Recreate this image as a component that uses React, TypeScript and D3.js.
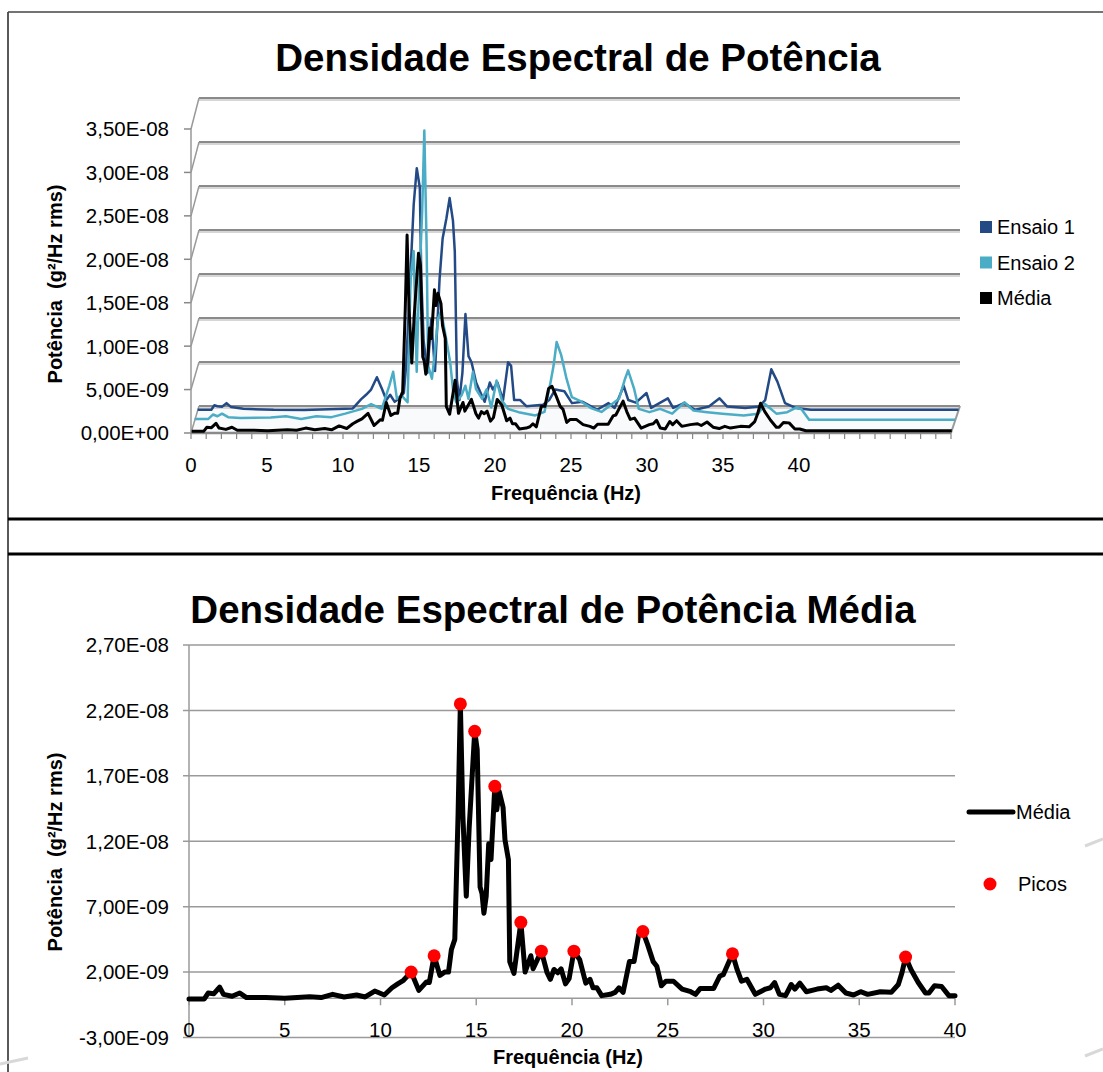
import { useEffect, useRef } from "react"
import * as d3 from "d3"

// frequência (Hz), potência (x 1e-9 g²/Hz rms)
const media: [number, number][] = [
  [0, -0.05], [0.8, -0.05], [1.0, 0.4], [1.3, 0.35], [1.6, 0.85], [1.8, 0.3], [2.25, 0.15], [2.65, 0.4],
  [3.0, 0.05], [4.0, 0.05], [5.0, 0.0], [6.3, 0.12], [6.9, 0.05], [7.5, 0.3], [8.1, 0.1], [8.75, 0.25],
  [9.2, 0.1], [9.7, 0.55], [10.2, 0.25], [10.6, 0.8], [10.9, 1.1], [11.2, 1.37], [11.6, 2.0], [12.0, 0.6],
  [12.4, 1.25], [12.55, 1.2], [12.8, 3.25], [13.1, 1.75], [13.35, 2.0], [13.55, 2.0], [13.7, 3.7], [13.88, 4.5],
  [14.05, 14], [14.17, 22.5], [14.3, 14], [14.48, 7.8], [14.63, 13], [14.92, 20.4], [15.05, 19], [15.2, 8.5],
  [15.3, 8.0], [15.4, 6.5], [15.52, 7.8], [15.65, 11.8], [15.77, 10.6], [15.97, 16.2], [16.07, 14.4], [16.2, 15.8],
  [16.4, 14.6], [16.5, 12.1], [16.68, 10.6], [16.75, 2.8], [16.97, 1.9], [17.33, 5.8], [17.55, 2.0], [17.85, 3.25],
  [17.97, 2.25], [18.4, 3.6], [18.7, 1.95], [18.87, 1.45], [19.06, 2.2], [19.25, 1.95], [19.43, 2.25], [19.66, 1.1],
  [19.85, 1.5], [20.1, 3.6], [20.4, 2.95], [20.72, 1.15], [20.94, 1.45], [21.1, 0.8], [21.3, 0.8], [21.55, 0.2],
  [22.0, 0.3], [22.25, 0.45], [22.45, 0.8], [22.67, 0.45], [23.0, 2.8], [23.24, 2.8], [23.48, 4.85], [23.7, 5.1],
  [23.95, 4.1], [24.24, 2.8], [24.43, 2.45], [24.67, 0.95], [24.9, 1.3], [25.3, 1.3], [25.75, 0.7], [26.2, 0.5],
  [26.45, 0.3], [26.7, 0.75], [27.4, 0.75], [27.72, 1.7], [27.9, 1.8], [28.38, 3.4], [28.62, 2.2], [28.85, 1.3],
  [29.13, 1.45], [29.57, 0.3], [30.1, 0.7], [30.36, 0.8], [30.58, 1.2], [30.83, 0.3], [31.15, 0.2], [31.45, 1.05],
  [31.64, 0.7], [31.9, 1.15], [32.24, 0.5], [32.8, 0.7], [33.28, 0.8], [33.52, 0.6], [33.9, 1.0], [34.3, 0.4],
  [34.7, 0.25], [35.07, 0.5], [35.44, 0.3], [36.1, 0.5], [36.67, 0.45], [37.04, 1.05], [37.23, 1.95], [37.42, 3.15],
  [37.7, 2.2], [38.08, 1.2], [38.46, 0.4], [38.64, 0.4], [38.93, 0.95], [39.3, 0.9], [39.68, 0.2], [40.0, 0.2],
]
// trecho plano depois de 40 Hz no grafico 3D
const mediaTail: [number, number][] = [[40.4, 0], [50, 0]]

const ensaio1: [number, number][] = [
  [0, 0.1], [0.9, 0.1], [1.1, 0.6], [1.3, 0.5], [1.6, 0.45], [1.9, 0.85], [2.2, 0.4], [3, 0.2], [5, 0.1], [7, 0.08],
  [10.2, 0.25], [10.75, 1.3], [11.07, 1.8], [11.4, 2.4], [11.78, 3.8], [12.13, 2.4], [12.4, 1.2], [12.65, 1.8],
  [12.95, 1.0], [13.27, 1.4], [13.55, 2.0], [13.7, 5.1], [13.97, 15.0], [14.2, 23.5], [14.4, 27.6], [14.6, 25.4],
  [14.7, 15.0], [14.85, 8.0], [15.1, 4.3], [15.35, 10.4], [15.6, 4.5], [15.9, 15.0], [16.1, 19.6], [16.35, 21.9],
  [16.56, 24.2], [16.78, 21.6], [16.9, 18.1], [17.04, 3.5], [17.2, 1.2], [17.4, 4.3], [17.6, 11.0], [17.8, 6.2],
  [18.0, 5.5], [18.3, 3.2], [18.6, 2.0], [18.86, 1.0], [19.2, 3.2], [19.4, 2.4], [19.7, 3.2], [20.07, 1.2],
  [20.4, 5.5], [20.6, 5.1], [20.8, 1.2], [21.2, 1.2], [21.6, 0.5], [22.7, 0.66], [23.1, 1.2], [23.5, 2.4],
  [24.1, 2.2], [24.6, 0.85], [25.3, 1.0], [26.25, 0.1], [27.0, 0.85], [27.4, 0.3], [28.0, 2.8], [28.3, 1.2],
  [28.8, 0.9], [29.5, 2.0], [29.8, 0.3], [30.9, 1.4], [31.25, 0.3], [31.96, 0.85], [32.7, 0.1], [33.6, 0.46],
  [34.3, 1.4], [34.8, 0.46], [36.0, 0.3], [36.9, 0.46], [37.3, 1.2], [37.7, 4.7], [38.1, 3.3], [38.6, 0.85],
  [39.3, 0.3], [40.3, 0.1], [50, 0.1],
]

const ensaio2: [number, number][] = [
  [0, 0.2], [0.9, 0.2], [1.2, 0.7], [1.5, 0.5], [1.8, 0.8], [2.2, 0.4], [3, 0.3], [5, 0.35], [6, 0.5], [7, 0.2],
  [8, 0.5], [9, 0.4], [9.9, 0.8], [11.0, 1.35], [11.6, 1.9], [12.3, 1.35], [12.8, 4.0], [13.05, 5.6], [13.3, 2.5],
  [13.6, 2.9], [14.0, 2.1], [14.2, 16.3], [14.4, 19.4], [14.6, 5.6], [14.7, 12.5], [14.96, 24.0], [15.1, 33.2],
  [15.25, 20.1], [15.35, 6.3], [15.6, 4.8], [15.8, 7.9], [16.0, 11.7], [16.2, 12.5], [16.45, 10.2], [16.8, 6.7],
  [17.0, 3.3], [17.2, 2.1], [17.55, 2.9], [17.8, 4.0], [18.0, 2.5], [18.3, 5.6], [18.5, 3.6], [18.9, 2.5],
  [19.2, 3.6], [19.5, 1.5], [19.85, 4.6], [20.2, 2.3], [20.6, 1.35], [21.3, 0.97], [22.4, 0.6], [23.0, 1.0],
  [23.4, 4.4], [23.6, 6.3], [23.8, 9.0], [24.1, 7.5], [24.45, 4.8], [24.8, 2.7], [25.4, 2.2], [26.1, 1.4],
  [26.75, 1.0], [27.9, 2.5], [28.3, 4.8], [28.5, 5.75], [28.9, 3.6], [29.2, 1.35], [29.9, 0.97], [30.6, 1.35],
  [31.4, 0.8], [32.2, 2.1], [32.8, 1.15], [33.7, 0.97], [34.7, 0.8], [36.1, 0.58], [37.05, 0.8], [37.5, 1.9],
  [38.25, 0.8], [38.96, 0.97], [39.55, 1.5], [39.9, 1.3], [40.4, 0.1], [50, 0.1],
]

const picos: [number, number][] = [
  [11.6, 2.0], [12.8, 3.25], [14.17, 22.5], [14.92, 20.4], [15.97, 16.2], [17.33, 5.8],
  [18.4, 3.6], [20.1, 3.6], [23.7, 5.1], [28.38, 3.4], [37.42, 3.15],
]

const seriesNames = ["Ensaio 1", "Ensaio 2", "Média"]
const seriesColors = ["#244a86", "#4bacc6", "#000000"]

const topTicks = [0, 5, 10, 15, 20, 25, 30, 35]
const topTickLabels = ["0,00E+00", "5,00E-09", "1,00E-08", "1,50E-08", "2,00E-08", "2,50E-08", "3,00E-08", "3,50E-08"]
const bottomTicks = [-3, 2, 7, 12, 17, 22, 27]
const bottomTickLabels = ["-3,00E-09", "2,00E-09", "7,00E-09", "1,20E-08", "1,70E-08", "2,20E-08", "2,70E-08"]
const freqLabels = [0, 5, 10, 15, 20, 25, 30, 35, 40]

const FONT = "'Liberation Sans', Arial, sans-serif"

export default function App() {
  const ref = useRef<SVGSVGElement>(null)

  useEffect(() => {
    const svg = d3.select(ref.current)
    svg.selectAll("*").remove()

    svg.append("rect").attr("width", 1103).attr("height", 1072).attr("fill", "#fff")

    // moldura dos paineis
    svg.append("line").attr("x1", 8).attr("x2", 8).attr("y1", 12).attr("y2", 1072).attr("stroke", "#222").attr("stroke-width", 1.5)
    svg.append("line").attr("x1", 8).attr("x2", 1103).attr("y1", 12).attr("y2", 12).attr("stroke", "#444").attr("stroke-width", 1.5)
    svg.append("line").attr("x1", 8).attr("x2", 1103).attr("y1", 519).attr("y2", 519).attr("stroke", "#000").attr("stroke-width", 3)
    svg.append("line").attr("x1", 8).attr("x2", 1103).attr("y1", 554).attr("y2", 554).attr("stroke", "#000").attr("stroke-width", 3)

    // riscos claros do fundo do slide
    const deco = [[[1085, 846], [1103, 839]], [[1085, 1056], [1103, 1049]], [[0, 1064], [28, 1058]]]
    deco.forEach(d => {
      svg.append("path").attr("d", d3.line()(d as [number, number][]))
        .attr("stroke", "#d8d8d8").attr("stroke-width", 3).attr("fill", "none")
    })

    // ---------------- grafico 3D (topo) ----------------
    const top = svg.append("g")
    top.append("text").attr("x", 578).attr("y", 71).attr("text-anchor", "middle")
      .style("font-family", FONT).style("font-weight", "bold").style("font-size", "38.5px")
      .text("Densidade Espectral de Potência")

    const xF = d3.scaleLinear().domain([0, 50]).range([191, 951])
    const xB = d3.scaleLinear().domain([0, 50]).range([199, 960])
    const yF = d3.scaleLinear().domain([0, 35]).range([433, 129])
    const yB = d3.scaleLinear().domain([0, 35]).range([406, 98])
    const depth = d3.scalePoint<string>().domain(["Média", "Ensaio 2", "Ensaio 1"]).range([0.085, 0.83])

    // chao
    top.append("path")
      .attr("d", d3.line()([[xF(0), yF(0)], [xF(50), yF(0)], [xB(50), yB(0)], [xB(0), yB(0)]]) + "Z")
      .attr("fill", "#f9fafb").attr("stroke", "none")

    // linhas de grade na parede do fundo + parede lateral
    topTicks.forEach((v, i) => {
      top.append("line").attr("x1", xB(0)).attr("x2", xB(50)).attr("y1", yB(v) + 2).attr("y2", yB(v) + 2)
        .attr("stroke", "#d6d6d6").attr("stroke-width", 2)
      top.append("line").attr("x1", xB(0)).attr("x2", xB(50)).attr("y1", yB(v)).attr("y2", yB(v))
        .attr("stroke", "#8a8a8a").attr("stroke-width", 2)
      top.append("line").attr("x1", xF(0)).attr("x2", xB(0)).attr("y1", yF(v)).attr("y2", yB(v))
        .attr("stroke", "#999").attr("stroke-width", 1.5)
      top.append("line").attr("x1", xF(0) - 7).attr("x2", xF(0)).attr("y1", yF(v)).attr("y2", yF(v))
        .attr("stroke", "#888").attr("stroke-width", 1.5)
      top.append("text").attr("x", 169).attr("y", yF(v)).attr("dy", "0.36em").attr("text-anchor", "end")
        .style("font-family", FONT).style("font-size", "20.5px")
        .text(topTickLabels[i])
    })
    top.append("line").attr("x1", xF(0)).attr("x2", xF(0)).attr("y1", yF(0)).attr("y2", yF(35))
      .attr("stroke", "#999").attr("stroke-width", 1.5)

    // borda frontal do chao e lado direito
    top.append("line").attr("x1", xF(0)).attr("x2", xF(50)).attr("y1", yF(0)).attr("y2", yF(0))
      .attr("stroke", "#8a8a8a").attr("stroke-width", 2.5)
    top.append("line").attr("x1", xF(50)).attr("x2", xB(50)).attr("y1", yF(0)).attr("y2", yB(0))
      .attr("stroke", "#999").attr("stroke-width", 2)
    d3.range(0, 51).forEach(h => {
      top.append("line").attr("x1", xF(h)).attr("x2", xF(h)).attr("y1", yF(0)).attr("y2", yF(0) + 6)
        .attr("stroke", "#888").attr("stroke-width", 1.2)
    })
    freqLabels.forEach(h => {
      top.append("text").attr("x", xF(h)).attr("y", 472).attr("text-anchor", "middle")
        .style("font-family", FONT).style("font-size", "20.5px").text(h)
    })

    // series (do fundo para a frente)
    const topData: [number, number][][] = [ensaio1, ensaio2, media.concat(mediaTail)]
    seriesNames.forEach((name, i) => {
      const d = depth(name) as number
      const line = d3.line<[number, number]>()
        .x(p => xF(p[0]) * (1 - d) + xB(p[0]) * d)
        .y(p => yF(p[1]) * (1 - d) + yB(p[1]) * d)
      top.append("path").attr("d", line(topData[i]))
        .attr("fill", "none").attr("stroke", seriesColors[i]).attr("stroke-width", name === "Média" ? 3 : 2.5)
        .attr("stroke-linejoin", "round")
    })

    // legenda
    seriesNames.forEach((name, i) => {
      const y = 227 + i * 35.5
      top.append("rect").attr("x", 980).attr("y", y - 6).attr("width", 12).attr("height", 12).attr("fill", seriesColors[i])
      top.append("text").attr("x", 997).attr("y", y).attr("dy", "0.36em")
        .style("font-family", FONT).style("font-size", "20px").text(name)
    })

    top.append("text").attr("x", 566).attr("y", 500).attr("text-anchor", "middle")
      .style("font-family", FONT).style("font-weight", "bold").style("font-size", "20px")
      .text("Frequência (Hz)")
    top.append("text").attr("transform", "translate(55,284) rotate(-90)").attr("text-anchor", "middle").attr("dy", "0.36em")
      .style("font-family", FONT).style("font-weight", "bold").style("font-size", "20px").style("white-space", "pre")
      .text("Potência  (g²/Hz rms)")

    // ---------------- grafico 2D (baixo) ----------------
    const bot = svg.append("g")
    bot.append("text").attr("x", 553).attr("y", 623).attr("text-anchor", "middle")
      .style("font-family", FONT).style("font-weight", "bold").style("font-size", "38.5px")
      .text("Densidade Espectral de Potência Média")

    const x = d3.scaleLinear().domain([0, 40]).range([189, 955])
    const y = d3.scaleLinear().domain([-3, 27]).range([1037.5, 645])

    bottomTicks.forEach((v, i) => {
      bot.append("line").attr("x1", x(0) - 6).attr("x2", x(40)).attr("y1", y(v)).attr("y2", y(v))
        .attr("stroke", "#9a9a9a").attr("stroke-width", 1.5)
      bot.append("text").attr("x", 169).attr("y", y(v)).attr("dy", "0.36em").attr("text-anchor", "end")
        .style("font-family", FONT).style("font-size", "20.5px").text(bottomTickLabels[i])
    })
    bot.append("line").attr("x1", x(0)).attr("x2", x(0)).attr("y1", y(27)).attr("y2", y(-3))
      .attr("stroke", "#9a9a9a").attr("stroke-width", 1.5)
    // eixo x cruza em zero
    bot.append("line").attr("x1", x(0)).attr("x2", x(40)).attr("y1", y(0)).attr("y2", y(0))
      .attr("stroke", "#9a9a9a").attr("stroke-width", 1.5)
    freqLabels.forEach(h => {
      bot.append("line").attr("x1", x(h)).attr("x2", x(h)).attr("y1", y(0)).attr("y2", y(0) + 7)
        .attr("stroke", "#9a9a9a").attr("stroke-width", 1.5)
      bot.append("text").attr("x", x(h)).attr("y", 1037).attr("text-anchor", "middle")
        .style("font-family", FONT).style("font-size", "20.5px").text(h)
    })

    const mediaLine = d3.line<[number, number]>().x(p => x(p[0])).y(p => y(p[1]))
    bot.append("path").attr("d", mediaLine(media))
      .attr("fill", "none").attr("stroke", "#000").attr("stroke-width", 5)
      .attr("stroke-linejoin", "round").attr("stroke-linecap", "round")

    bot.selectAll("circle.pico").data(picos).join("circle").attr("class", "pico")
      .attr("cx", d => x(d[0])).attr("cy", d => y(d[1])).attr("r", 6.5).attr("fill", "#ff0000")

    // legenda
    bot.append("line").attr("x1", 969).attr("x2", 1013).attr("y1", 812).attr("y2", 812)
      .attr("stroke", "#000").attr("stroke-width", 5).attr("stroke-linecap", "round")
    bot.append("text").attr("x", 1016).attr("y", 812).attr("dy", "0.36em")
      .style("font-family", FONT).style("font-size", "20px").text("Média")
    bot.append("circle").attr("cx", 990).attr("cy", 884).attr("r", 6.5).attr("fill", "#ff0000")
    bot.append("text").attr("x", 1018).attr("y", 884).attr("dy", "0.36em")
      .style("font-family", FONT).style("font-size", "20px").text("Picos")

    bot.append("text").attr("x", 568).attr("y", 1064).attr("text-anchor", "middle")
      .style("font-family", FONT).style("font-weight", "bold").style("font-size", "20px")
      .text("Frequência (Hz)")
    bot.append("text").attr("transform", "translate(55,852) rotate(-90)").attr("text-anchor", "middle").attr("dy", "0.36em")
      .style("font-family", FONT).style("font-weight", "bold").style("font-size", "20px").style("white-space", "pre")
      .text("Potência  (g²/Hz rms)")
  }, [])

  return (
    <svg ref={ref} width={1103} height={1072}
      style={{ position: "absolute", left: 0, top: 0, display: "block" }} />
  )
}
